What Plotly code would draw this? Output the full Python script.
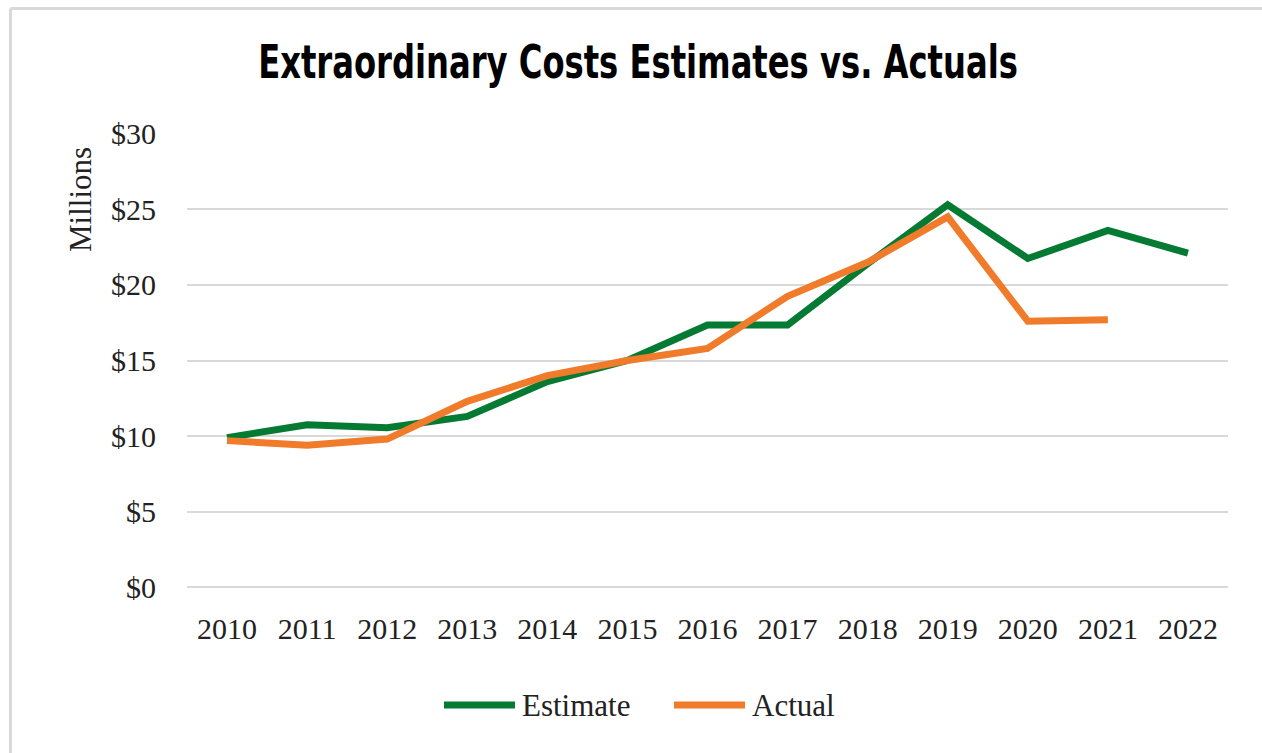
import plotly.graph_objects as go

years = [2010, 2011, 2012, 2013, 2014, 2015, 2016, 2017, 2018, 2019, 2020, 2021, 2022]
estimate = [9.9, 10.75, 10.55, 11.3, 13.6, 15.0, 17.35, 17.35, 21.4, 25.3, 21.75, 23.6, 22.1]
actual = [9.7, 9.4, 9.8, 12.3, 14.0, 15.0, 15.8, 19.25, 21.5, 24.5, 17.6, 17.7, None]
y_ticks = [0, 5, 10, 15, 20, 25, 30]
y_tick_labels = ["$0", "$5", "$10", "$15", "$20", "$25", "$30"]

GREEN = "#047a33"
ORANGE = "#f07b2a"
SERIF = "Liberation Serif, DejaVu Serif, serif"

W, H = 1262, 753
L, R, T, B = 187, 34, 133, 165
PW, PH = W - L - R, H - T - B

def px2paper(x, y):
    return (x - L) / PW, (H - B - y) / PH

fig = go.Figure()
fig.add_trace(go.Scatter(x=years, y=estimate, name="Estimate", mode="lines",
                         line=dict(color=GREEN, width=7), showlegend=False))
fig.add_trace(go.Scatter(x=years, y=actual, name="Actual", mode="lines",
                         line=dict(color=ORANGE, width=7), showlegend=False))

shapes = []
annotations = []
# frame lines
x0, y0 = px2paper(10.5, 8.5)
x1, _ = px2paper(W + 5, 8.5)
_, yb = px2paper(10.5, H + 5)
shapes.append(dict(type="line", xref="paper", yref="paper", x0=x0, y0=y0, x1=x1, y1=y0,
                   line=dict(color="#d9d9d9", width=3)))
shapes.append(dict(type="line", xref="paper", yref="paper", x0=x0, y0=y0, x1=x0, y1=yb,
                   line=dict(color="#d9d9d9", width=3)))

# custom legend
for name, color, lx0, lx1, tx in [("Estimate", GREEN, 444, 515, 520), ("Actual", ORANGE, 674, 745, 750)]:
    a0, ly = px2paper(lx0, 705)
    a1, _ = px2paper(lx1, 705)
    shapes.append(dict(type="line", xref="paper", yref="paper", x0=a0, y0=ly, x1=a1, y1=ly,
                       line=dict(color=color, width=7)))
    t0, _ = px2paper(tx, 705)
    annotations.append(dict(xref="paper", yref="paper", x=t0, y=ly, text=name, showarrow=False,
                            xanchor="left", yanchor="middle",
                            font=dict(family=SERIF, size=31, color="#222222")))

# y-axis title (display units label)
mx, my = px2paper(80, 200)
annotations.append(dict(xref="paper", yref="paper", x=mx, y=my, text="Millions", showarrow=False,
                        textangle=-90, xanchor="center", yanchor="middle",
                        font=dict(family=SERIF, size=31, color="#222222")))

fig.update_layout(
    width=W, height=H,
    margin=dict(l=L, r=R, t=T, b=B),
    paper_bgcolor="white", plot_bgcolor="white",
    title=dict(text="<b>Extraordinary Costs Estimates vs. Actuals</b>",
               x=638 / W, xanchor="center", y=1 - 62 / H, yanchor="middle",
               font=dict(family="DejaVu Sans Condensed, DejaVu Sans, sans-serif",
                         size=47, color="black")),
    shapes=shapes, annotations=annotations,
    showlegend=False,
)
fig.update_xaxes(range=[2009.5, 2022.5], tickmode="array", tickvals=years,
                 ticktext=[str(y) for y in years], showgrid=False, zeroline=False,
                 showline=False, ticks="", ticklabelstandoff=20,
                 tickfont=dict(family=SERIF, size=30, color="#222222"))
fig.update_yaxes(range=[-0.05, 30.05], tickmode="array", tickvals=y_ticks, ticktext=y_tick_labels,
                 showgrid=True, gridcolor="#d9d9d9", gridwidth=2,
                 zeroline=True, zerolinecolor="#d9d9d9", zerolinewidth=2,
                 showline=False, ticks="", ticklabelstandoff=30,
                 tickfont=dict(family=SERIF, size=30, color="#222222"))

post = """
document.body.style.margin = '0';
document.body.style.padding = '0';
var gd = document.getElementById('{plot_id}');
function squeeze() {
  var t = gd.querySelector('.gtitle');
  if (!t) return;
  t.style.transform = '';
  var w = t.getBBox().width;
  var s = 760 / w;
  t.style.transformBox = 'fill-box';
  t.style.transformOrigin = 'center';
  t.style.transform = 'scaleX(' + s + ')';
}
squeeze();
gd.on('plotly_afterplot', squeeze);
"""
fig.write_html("out.html", post_script=post, config={"displayModeBar": False})
